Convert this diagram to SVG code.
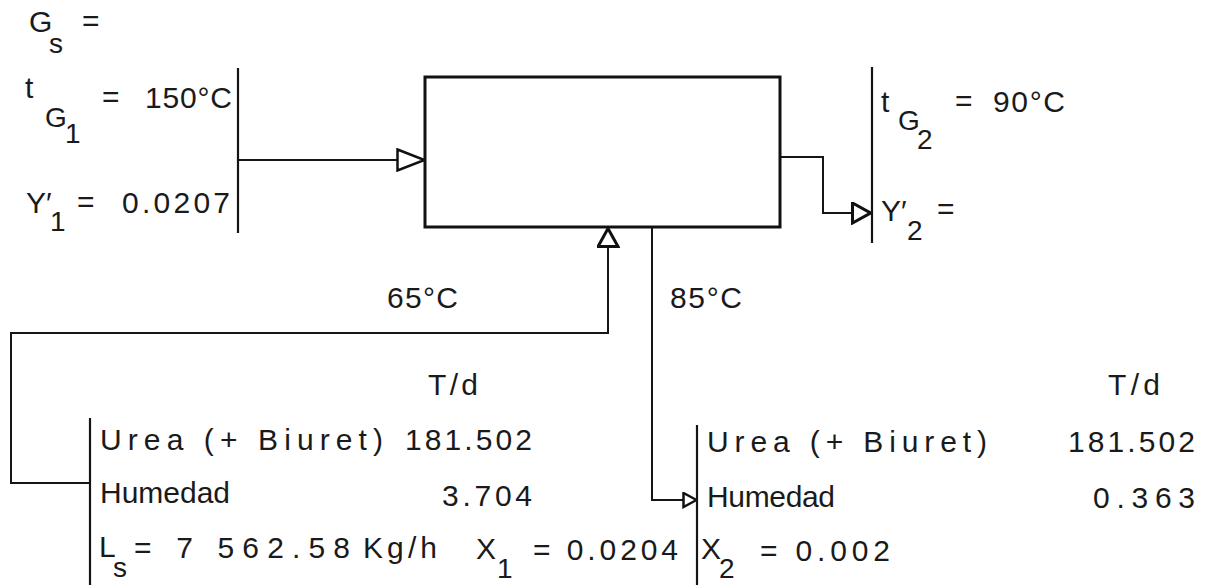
<svg xmlns="http://www.w3.org/2000/svg" width="1207" height="585" viewBox="0 0 1207 585">
<style>
text{font-family:"Liberation Sans",Arial,sans-serif;font-size:30px;fill:#1a1a1a}
.sub{font-size:28px}
.ln{fill:none;stroke:#151515;stroke-width:2}
.bar{stroke:#151515;stroke-width:2.2}
.box{fill:none;stroke:#111;stroke-width:3}
</style>
<defs>
<marker id="arrowL" viewBox="0 0 30 24" refX="29" refY="12" markerWidth="30" markerHeight="24" markerUnits="userSpaceOnUse" orient="auto">
<path d="M1.5,1.5 L28.5,12 L1.5,22.5 Z" fill="#fff" stroke="#111" stroke-width="2.5"/>
</marker>
<marker id="arrowM" viewBox="0 0 21 23" refX="20" refY="11.5" markerWidth="21" markerHeight="23" markerUnits="userSpaceOnUse" orient="auto">
<path d="M1.5,1.5 L19.5,11.5 L1.5,21.5 Z" fill="#fff" stroke="#111" stroke-width="3"/>
</marker>
<marker id="arrowS" viewBox="0 0 16 17" refX="15" refY="8.5" markerWidth="16" markerHeight="17" markerUnits="userSpaceOnUse" orient="auto">
<path d="M1.5,1.5 L14.5,8.5 L1.5,15.5 Z" fill="#fff" stroke="#111" stroke-width="2.5"/>
</marker>
</defs>

<g id="connectors">
<line class="ln" x1="238" y1="160" x2="425" y2="160" marker-end="url(#arrowL)"/>
<path class="ln" d="M780,157 H823 V213 H871" marker-end="url(#arrowM)"/>
<path class="ln" d="M90,483 H11 V333 H608 V228" marker-end="url(#arrowM)"/>
<path class="ln" d="M652,228 V500 H697" marker-end="url(#arrowS)"/>
</g>

<g id="dryer">
<rect class="box" x="425" y="77" width="355" height="150"/>
</g>

<g id="gas-inlet">
<text x="29" y="32">G</text>
<text class="sub" x="49" y="53">s</text>
<text x="82" y="31">=</text>
<text x="25" y="98">t</text>
<text class="sub" x="45" y="127">G</text>
<text class="sub" x="65" y="143">1</text>
<text x="102" y="107">=</text>
<text x="145" y="108" textLength="87" lengthAdjust="spacing">150°C</text>
<text x="26" y="213">Y′</text>
<text class="sub" x="50" y="231">1</text>
<text x="77" y="212">=</text>
<text x="122" y="213" textLength="108" lengthAdjust="spacing">0.0207</text>
<line class="bar" x1="238" y1="68" x2="238" y2="233"/>
</g>

<g id="gas-outlet">
<line class="bar" x1="872" y1="67" x2="872" y2="243"/>
<text x="881" y="112">t</text>
<text class="sub" x="898" y="130">G</text>
<text class="sub" x="917" y="149">2</text>
<text x="955" y="111">=</text>
<text x="993" y="112" textLength="72" lengthAdjust="spacing">90°C</text>
<text x="881" y="221">Y′</text>
<text class="sub" x="907" y="240">2</text>
<text x="937" y="219">=</text>
</g>

<g id="temperatures">
<text x="387" y="308" textLength="71" lengthAdjust="spacing">65°C</text>
<text x="670" y="308" textLength="72" lengthAdjust="spacing">85°C</text>
</g>

<g id="feed">
<line class="bar" x1="90" y1="418" x2="90" y2="585"/>
<text x="428" y="395" textLength="50" lengthAdjust="spacing">T/d</text>
<text x="100" y="450" textLength="283" lengthAdjust="spacing">Urea (+ Biuret)</text>
<text x="405" y="450" textLength="127" lengthAdjust="spacing">181.502</text>
<text x="100" y="503" textLength="130" lengthAdjust="spacing">Humedad</text>
<text x="442" y="506" textLength="90" lengthAdjust="spacing">3.704</text>
<text x="99" y="557">L</text>
<text class="sub" x="113" y="577">s</text>
<text x="134" y="558" textLength="216" lengthAdjust="spacing">= 7 562.58</text>
<text x="363" y="558" textLength="74" lengthAdjust="spacing">Kg/h</text>
<text x="476" y="559">X</text>
<text class="sub" x="497" y="578">1</text>
<text x="533" y="560" textLength="145" lengthAdjust="spacing">= 0.0204</text>
</g>

<g id="product">
<line class="bar" x1="697" y1="425" x2="697" y2="585"/>
<text x="1108" y="395" textLength="52" lengthAdjust="spacing">T/d</text>
<text x="707" y="452" textLength="280" lengthAdjust="spacing">Urea (+ Biuret)</text>
<text x="1068" y="452" textLength="127" lengthAdjust="spacing">181.502</text>
<text x="707" y="507" textLength="128" lengthAdjust="spacing">Humedad</text>
<text x="1093" y="508" textLength="102" lengthAdjust="spacing">0.363</text>
<text x="701" y="559">X</text>
<text class="sub" x="719" y="578">2</text>
<text x="760" y="561" textLength="130" lengthAdjust="spacing">= 0.002</text>
</g>
</svg>
